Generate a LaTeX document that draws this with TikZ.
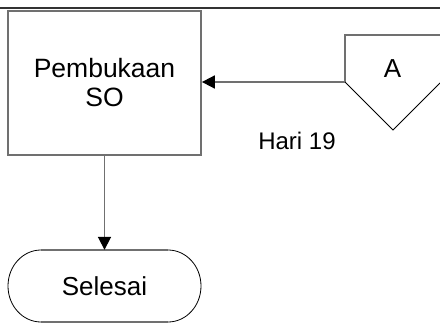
\documentclass[tikz,border=0pt]{standalone}
\usepackage{fontspec}
\setmainfont{Liberation Sans}
\usetikzlibrary{arrows.meta}
\definecolor{lgray}{RGB}{112,112,112}
\tikzset{
  lbl/.style={inner sep=0pt, font=\fontsize{26}{29}\selectfont},
  procbox/.style={draw=lgray, line width=1.8pt, minimum width=193pt, minimum height=144pt,
    inner sep=0pt, align=center, font=\fontsize{26.5}{29}\selectfont},
  termbox/.style={draw=none, minimum width=193pt, minimum height=72pt, inner sep=0pt,
    font=\fontsize{26}{29}\selectfont},
  arr/.style={draw=lgray, line width=1.8pt, -{Triangle[length=13pt,width=13pt,color=black]}},
  grayline/.style={draw=lgray, line width=1.8pt},
  thinline/.style={draw=black, line width=0.8pt},
}
\begin{document}
\begin{tikzpicture}[x=1pt,y=-1pt]
\useasboundingbox (0,0) rectangle (440,324);
% top rule
\draw[black!80, line width=2.2pt] (0,8) -- (440,8);
% process box
\node[procbox] (box) at (104.5,83) {Pembukaan\\SO};
% off-page connector
\draw[grayline] (440,35) -- (345,35) -- (345,82);
\draw[thinline] (345,82) -- (393,130) -- (440,83);
\coordinate (aL) at (345,82);
\node[lbl] (A) at (392.5,69) {A};
\node[inner sep=0pt, font=\fontsize{24}{28}\selectfont] (hari) at (297,141) {Hari 19};
% terminator
\node[termbox] (sel) at (104.5,286) {Selesai};
\draw[grayline] (41,250) -- (168,250);
\draw[grayline] (41,322) -- (168,322);
\draw[thinline] (168,250) arc[start angle=90, end angle=-90, x radius=33, y radius=-36];
\draw[thinline] (41,322) arc[start angle=270, end angle=90, x radius=33, y radius=-36];
% connectors
\draw[arr] (aL) -- (aL -| box.east);
\draw[arr] (box.south) -- (sel.north);
\end{tikzpicture}
\end{document}
